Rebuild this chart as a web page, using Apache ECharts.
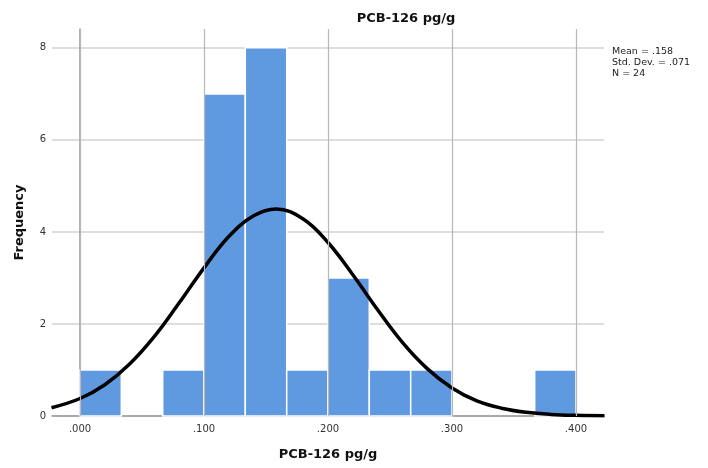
<!DOCTYPE html>
<html><head><meta charset="utf-8">
<script src="https://cdn.jsdelivr.net/npm/echarts@6/dist/echarts.min.js"></script>
<style>html,body{margin:0;padding:0;background:#fff}#c{width:708px;height:468px}</style>
</head><body><div id="c"></div>
<script>
// Histogram bins (lower edge, upper edge) and counts
var binStart = [0.0000, 0.0667, 0.1000, 0.1333, 0.1667, 0.2000, 0.2333, 0.2667, 0.3667];
var binEnd   = [0.0333, 0.1000, 0.1333, 0.1667, 0.2000, 0.2333, 0.2667, 0.3000, 0.4000];
var counts   = [1, 1, 7, 8, 1, 3, 1, 1, 1];
// Normal curve
var curveX = [-0.023, 0.00, 0.02, 0.04, 0.06, 0.08, 0.10, 0.12, 0.14, 0.158, 0.18, 0.20, 0.22, 0.24, 0.26, 0.28, 0.30, 0.32, 0.34, 0.36, 0.38, 0.40, 0.423];
var curveY = [0.18, 0.38, 0.68, 1.13, 1.73, 2.46, 3.22, 3.90, 4.35, 4.50, 4.28, 3.77, 3.07, 2.31, 1.60, 1.03, 0.61, 0.33, 0.17, 0.08, 0.034, 0.014, 0.005];
var xTicks = [0, 0.1, 0.2, 0.3, 0.4];
var xTickLabels = ['.000', '.100', '.200', '.300', '.400'];
var statsText = ['Mean = .158', 'Std. Dev. = .071', 'N = 24'];

var FONT = '"DejaVu Sans", Verdana, sans-serif';
var chart = echarts.init(document.getElementById('c'), null, {renderer: 'canvas'});
var barData = counts.map(function (c, i) { return [binStart[i], binEnd[i], c]; });
var curveData = curveX.map(function (x, i) { return [x, curveY[i]]; });

chart.setOption({
  animation: false,
  textStyle: {fontFamily: FONT},
  title: {
    text: 'PCB-126 pg/g', left: 401, textAlign: 'center', top: 7,
    textStyle: {fontSize: 13, fontWeight: 'bold', color: '#111', fontFamily: FONT}
  },
  graphic: [{
    type: 'text', left: 612, top: 46,
    style: {text: statsText.join('\n'), fontSize: 9.5, lineHeight: 11, fill: '#222', fontFamily: FONT}
  }],
  grid: {left: 52, right: 104, top: 29, bottom: 52, containLabel: false},
  xAxis: {
    type: 'value', min: -0.0226, max: 0.4226,
    name: 'PCB-126 pg/g', nameLocation: 'middle', nameGap: 32,
    nameTextStyle: {fontSize: 13, fontWeight: 'bold', color: '#111', fontFamily: FONT},
    axisLine: {show: true, lineStyle: {color: '#999', width: 1.5}},
    axisTick: {show: false},
    splitLine: {show: false},
    axisLabel: {
      customValues: xTicks, fontSize: 10, color: '#333', margin: 8, fontFamily: FONT,
      formatter: function (v) { var i = xTicks.indexOf(v); return i >= 0 ? xTickLabels[i] : ''; }
    }
  },
  yAxis: {
    type: 'value', min: 0, max: 8.41, interval: 2,
    name: 'Frequency', nameLocation: 'middle', nameGap: 26,
    nameTextStyle: {fontSize: 13, fontWeight: 'bold', color: '#111', fontFamily: FONT},
    axisLine: {show: true, lineStyle: {color: '#999', width: 1.5}},
    axisTick: {show: false},
    splitLine: {show: true, showMaxLine: false, lineStyle: {color: '#d3d3d3', width: 1.5}},
    axisLabel: {fontSize: 10, color: '#333', margin: 6, fontFamily: FONT, showMaxLabel: false,
      formatter: function (v) { return (v % 2 === 0 && v <= 8) ? String(v) : ''; }}
  },
  series: [
    {
      type: 'line', data: [], z: 0, silent: true,
      markLine: {
        silent: true, symbol: 'none', label: {show: false},
        lineStyle: {color: '#b8b8b8', width: 1.2, type: 'solid'},
        data: xTicks.map(function (v) { return {xAxis: v}; })
      }
    },
    {
      type: 'custom', z: 2,
      renderItem: function (params, api) {
        var p0 = api.coord([api.value(0), api.value(2)]);
        var p1 = api.coord([api.value(1), 0]);
        return {
          type: 'rect',
          shape: {x: p0[0], y: p0[1], width: p1[0] - p0[0], height: p1[1] - p0[1]},
          style: {fill: '#5f9ae0', stroke: '#ffffff', lineWidth: 1.5}
        };
      },
      encode: {x: [0, 1], y: 2},
      data: barData
    },
    {
      type: 'line', z: 3, data: curveData, smooth: 0.4, showSymbol: false,
      lineStyle: {color: '#000', width: 3.5}
    }
  ]
});
</script></body></html>
